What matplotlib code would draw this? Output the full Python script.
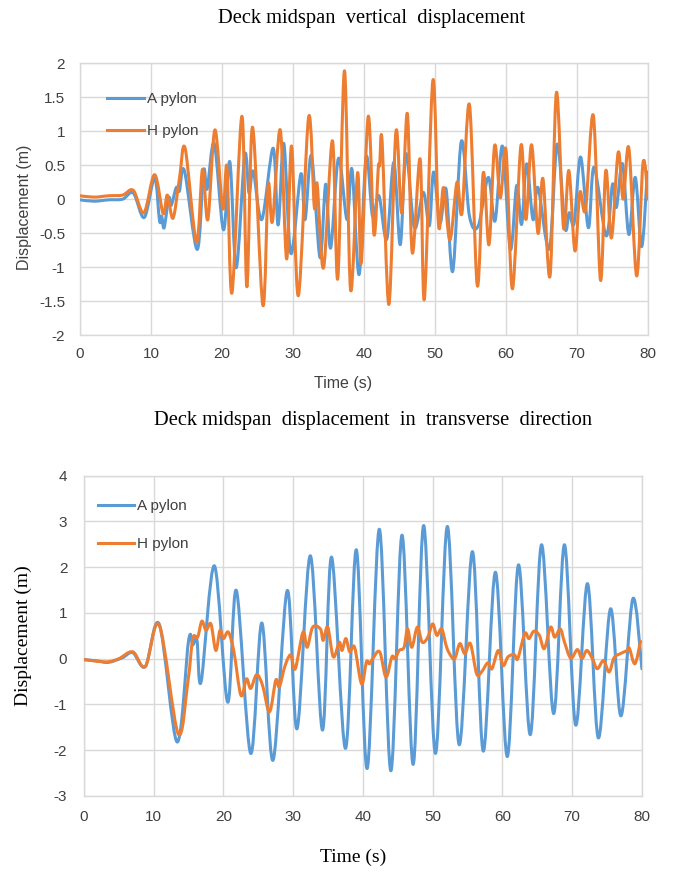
import numpy as np
import matplotlib
matplotlib.use('Agg')
import matplotlib.pyplot as plt
from matplotlib.path import Path
from matplotlib.patches import PathPatch
from matplotlib.lines import Line2D

# ---- top chart: vertical displacement (peaks/troughs)
vert_t_a = [0, 2, 4, 6, 7.5, 9.05, 10.5, 11.2, 11.5, 11.85, 12.5, 12.85, 13.55, 14.0, 14.7,
            16.5, 17.4, 17.9, 18.9, 20.2, 21.1, 22.0, 23.2, 23.8, 24.4, 25.6, 27.2, 27.9,
            28.7, 29.7, 31.1, 31.7, 32.6, 33.8, 34.6, 35.3, 36.4, 37.6, 38.3, 39.3, 40.3,
            41.2, 42.1, 43.2, 44.2, 45.1, 45.9, 47.1, 48.35, 49.2, 49.8, 50.7, 51.55, 52.5,
            53.7, 54.85, 56.1, 57.5, 58.45, 59.5, 60.6, 61.5, 62.2, 62.9, 63.8, 64.5, 66.1,
            67.2, 68.3, 68.9, 69.6, 70.5, 71.6, 72.4, 74.1, 75.0, 75.55, 76.4, 77.3, 78.2,
            79.1, 79.9]
vert_a = [-0.01, -0.03, -0.01, 0.0, 0.09, -0.27, 0.31, -0.32, -0.25, -0.42, 0.02, -0.09, 0.17,
          0.12, 0.42, -0.74, 0.42, 0.15, 0.82, -0.45, 0.55, -1.01, 0.65, 0.09, 0.41, -0.3,
          0.75, -0.38, 0.82, -0.8, 0.37, -0.3, 0.64, -0.86, 0.22, -0.72, 0.6, -0.3, 0.44,
          -1.11, 0.62, -0.25, 0.05, -0.59, 0.54, -0.67, 0.67, -0.42, 0.1, -0.39, 0.4, -0.35,
          0.15, -1.06, 0.85, -0.25, -0.39, 0.32, -0.32, 0.78, -0.74, 0.2, -0.37, 0.52, -0.3,
          0.17, -0.73, 0.81, -0.42, -0.2, -0.35, 0.62, -0.42, 0.47, -0.54, 0.22, -0.12, 0.52,
          -0.52, 0.32, -0.7, 0.4]

vert_t_h = [0, 2, 4, 6, 7.5, 9.0, 10.5, 11.7, 12.3, 13.1, 14.0, 14.8, 16.4, 17.25, 18.0, 19.0,
            20.1, 20.7, 21.4, 22.8, 23.5, 24.3, 25.75, 26.5, 27.1, 28.2, 29.1, 29.8, 30.75,
            32.2, 33.0, 33.4, 34.3, 35.55, 36.3, 37.25, 38.1, 39.1, 39.6, 40.6, 41.4, 42.0,
            42.2, 42.55, 43.5, 44.5, 45.3, 46.1, 46.8, 47.9, 48.5, 49.7, 50.5, 51.2, 52.1,
            53.1, 53.8, 54.85, 55.95, 56.8, 57.6, 58.4, 59.2, 60.0, 60.9, 62.1, 62.8, 63.6,
            64.5, 65.2, 66.2, 67.1, 68.1, 68.85, 69.7, 70.4, 71.2, 72.3, 73.3, 74.05, 74.85,
            75.8, 76.5, 77.3, 78.4, 79.3, 80]
vert_h = [0.05, 0.03, 0.05, 0.06, 0.13, -0.2, 0.36, -0.21, 0.06, -0.28, 0.3, 0.75, -0.63, 0.44,
          -0.3, 1.02, -0.14, 0.47, -1.38, 1.22, -1.29, 1.06, -1.56, 0.21, -0.33, 1.02, -0.88,
          0.78, -1.42, 1.21, -0.12, 0.22, -1.01, 0.86, -1.17, 1.89, -1.33, 0.39, -0.94, 1.22,
          -0.52, 0.45, 0.5, 0.85, -1.55, 1.0, -0.2, 1.26, -0.79, 0.59, -1.47, 1.75, -0.39,
          0.17, -0.6, 0.25, -0.2, 1.39, -1.27, 0.39, -0.67, 0.79, 0.02, 0.72, -1.32, 0.79,
          -0.3, 0.8, -0.5, 0.3, -1.13, 1.57, -0.42, 0.42, -0.76, 0.1, -0.15, 1.23, -1.19,
          0.42, -0.57, 0.69, 0.0, 0.75, -1.13, 0.54, 0.0]

# ---- bottom chart: transverse displacement
trans_t_a = [0, 2, 3.5, 5.5, 7.0, 8.8, 10.8, 13.35, 15.0, 15.6, 16.2, 16.8, 18.7, 20.6, 21.85,
             23.9, 25.5, 27.1, 29.15, 30.55, 32.45, 34.2, 35.5, 37.5, 39.05, 40.6, 42.35, 44.0,
             45.6, 47.2, 48.7, 50.4, 52.1, 53.8, 55.7, 57.25, 59.0, 60.7, 62.3, 64.0, 65.6,
             67.35, 68.9, 70.5, 72.2, 73.75, 75.5, 77.0, 78.7, 80]
trans_a = [-0.02, -0.05, -0.08, 0.02, 0.13, -0.17, 0.75, -1.82, 0.4, 0.3, 0.4, -0.5, 2.03,
           -0.95, 1.49, -2.07, 0.78, -2.22, 1.49, -1.53, 2.25, -1.56, 2.22, -1.96, 2.38, -2.4,
           2.83, -2.45, 2.7, -2.31, 2.91, -2.07, 2.89, -1.88, 2.34, -2.02, 1.89, -2.14, 2.05,
           -1.66, 2.49, -1.2, 2.49, -1.45, 1.64, -1.73, 1.09, -1.25, 1.31, -0.22]

trans_t_h = [0, 3.2, 5.0, 7.0, 8.8, 10.8, 13.5, 14.9, 15.6, 16.3, 16.9, 17.5, 18.2, 18.9, 19.5,
             20.0, 20.7, 21.5, 22.5, 23.3, 23.9, 24.75, 25.6, 26.6, 27.5, 28.0, 28.7, 29.25,
             29.7, 30.3, 31.4, 32.0, 32.8, 33.9, 34.3, 34.95, 35.75, 36.6, 37.0, 37.55, 38.1,
             38.8, 39.8, 40.5, 40.95, 41.4, 42.4, 43.3, 44.15, 44.6, 45.2, 45.9, 46.4, 47.0,
             47.8, 48.5, 49.3, 50.0, 50.6, 51.3, 52.0, 52.7, 53.2, 53.9, 54.6, 55.4, 56.3,
             57.0, 57.9, 58.5, 59.4, 60.1, 60.8, 61.7, 62.2, 63.2, 63.8, 64.5, 65.3, 66.0,
             66.9, 67.5, 68.3, 68.9, 69.8, 70.75, 71.4, 72.1, 72.9, 73.6, 74.5, 75.3, 76.0,
             76.9, 77.9, 78.2, 79.0, 79.8]
trans_h = [-0.02, -0.07, 0.0, 0.15, -0.17, 0.73, -1.64, -0.5, 0.44, 0.47, 0.82, 0.62, 0.76,
           0.18, 0.62, 0.44, 0.58, 0.15, -0.8, -0.44, -0.65, -0.35, -0.58, -1.16, -0.47,
           -0.62, -0.22, 0.01, 0.07, -0.22, 0.58, 0.25, 0.69, 0.65, 0.4, 0.69, 0.04, 0.36,
           0.18, 0.44, 0.15, 0.25, -0.55, -0.07, -0.11, 0.0, 0.15, -0.4, 0.04, 0.0, 0.18,
           0.25, 0.65, 0.25, 0.69, 0.36, 0.47, 0.76, 0.51, 0.65, 0.25, 0.04, 0.01, 0.33,
           0.11, 0.33, -0.33, -0.29, -0.09, -0.22, 0.18, -0.15, 0.04, 0.09, 0.0, 0.55, 0.44,
           0.6, 0.51, 0.22, 0.69, 0.47, 0.65, 0.36, 0.01, 0.2, 0.0, 0.18, 0.0, -0.22, -0.04,
           -0.29, 0.02, 0.11, 0.18, 0.23, -0.11, 0.38]

BLUE = '#5B9BD5'
ORANGE = '#ED7D31'
GRID = '#D9D9D9'
TXT = '#404040'
SERIF = 'Liberation Serif'
SANS = 'Liberation Sans'
LW = 2.2


def smooth_path(x, y):
    # Excel-style smoothed line: cubic bezier segments through the points
    pts = np.column_stack([x, y]).astype(float)
    n = len(pts)
    verts = [pts[0]]
    codes = [Path.MOVETO]
    for i in range(n - 1):
        p0 = pts[i - 1] if i > 0 else pts[i]
        p1, p2 = pts[i], pts[i + 1]
        p3 = pts[i + 2] if i + 2 < n else pts[i + 1]
        verts += [p1 + (p2 - p0) / 6, p2 - (p3 - p1) / 6, p2]
        codes += [Path.CURVE4] * 3
    return Path(verts, codes)


def draw(ax, t_a, a, t_h, h, ylim, yticks, xpad, ypad, leg_xy, leg_space):
    ax.add_patch(PathPatch(smooth_path(t_a, a), fill=False, edgecolor=BLUE, lw=LW,
                           capstyle='round', joinstyle='round', zorder=3))
    ax.add_patch(PathPatch(smooth_path(t_h, h), fill=False, edgecolor=ORANGE, lw=LW,
                           capstyle='round', joinstyle='round', zorder=4))
    ax.set_xlim(0, 80)
    ax.set_ylim(*ylim)
    ax.set_xticks(range(0, 81, 10))
    ax.set_yticks(yticks)
    ax.set_yticklabels([f'{v:g}' for v in yticks])
    ax.grid(True, color=GRID, lw=1.0)
    ax.set_axisbelow(True)
    for s in ax.spines.values():
        s.set_color(GRID)
        s.set_linewidth(1.0)
    ax.tick_params(length=0, labelsize=11, labelcolor=TXT)
    ax.tick_params(axis='x', pad=xpad)
    ax.tick_params(axis='y', pad=ypad)
    for lab in ax.get_xticklabels() + ax.get_yticklabels():
        lab.set_fontfamily(SANS)
    handles = [Line2D([], [], color=BLUE, lw=LW), Line2D([], [], color=ORANGE, lw=LW)]
    ax.legend(handles, ['A pylon', 'H pylon'], loc='upper left', bbox_to_anchor=leg_xy,
              frameon=False, handlelength=2.4, handletextpad=0.2, labelspacing=leg_space,
              prop={'family': SANS, 'size': 11}, labelcolor=TXT)


fig = plt.figure(figsize=(6.73, 8.72), dpi=100)

ax1 = fig.add_axes([0.1189, 0.6158, 0.844, 0.3116])
draw(ax1, vert_t_a, vert_a, vert_t_h, vert_h, (-2, 2), np.arange(-2, 2.01, 0.5),
     8.6, 10.8, (0.0235, 0.945), 1.17)
ax1.set_xlabel('Time (s)', family=SANS, size=11.5, color=TXT, va='top')
ax1.xaxis.set_label_coords(0.463, -0.151)
ax1.set_ylabel('Displacement (m)', family=SANS, size=11.5, color=TXT)
ax1.yaxis.set_label_coords(-0.0845, 0.471)
fig.text(0.552, 0.979, 'Deck midspan  vertical  displacement', family=SERIF, size=14.8,
         ha='center', va='center', color='black')

ax2 = fig.add_axes([0.1248, 0.0872, 0.829, 0.3673])
draw(ax2, trans_t_a, trans_a, trans_t_h, trans_h, (-3, 4), range(-3, 5),
     10, 12, (0.0, 0.97), 1.6)
ax2.set_xlabel('Time (s)', family=SERIF, size=14, color='black', va='top')
ax2.xaxis.set_label_coords(0.482, -0.166)
ax2.set_ylabel('Displacement (m)', family=SERIF, size=14, color='black')
ax2.yaxis.set_label_coords(-0.093, 0.5)
fig.text(0.555, 0.518, 'Deck midspan  displacement  in  transverse  direction', family=SERIF,
         size=14.8, ha='center', va='center', color='black')

fig.savefig('out.png', dpi=100)
